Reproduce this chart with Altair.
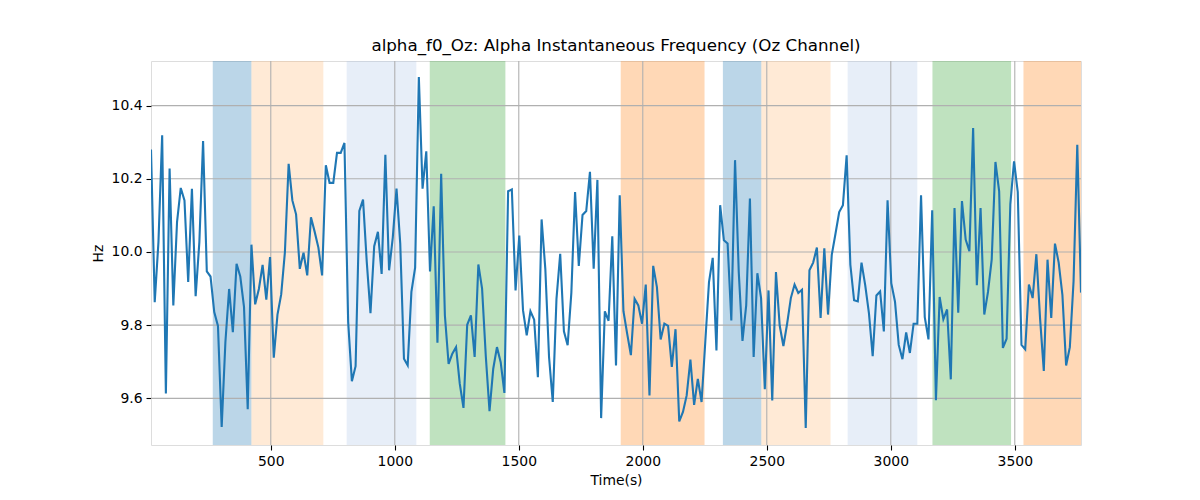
import altair as alt
import pandas as pd

# ---- data ----
T_START = 17.0   # first time stamp (s)
T_STEP = 15.0    # sampling step (s)
freq_hz = [
    10.28, 9.863, 10.027, 10.319, 9.613, 10.228, 9.854, 10.082, 10.175, 10.141,
    9.918, 10.173, 9.879, 10.027, 10.303, 9.947, 9.933, 9.836, 9.798, 9.522,
    9.754, 9.899, 9.781, 9.968, 9.933, 9.850, 9.570, 10.020, 9.857, 9.899,
    9.965, 9.870, 9.986, 9.711, 9.829, 9.884, 10.000, 10.241, 10.141, 10.103,
    9.954, 9.998, 9.936, 10.095, 10.055, 10.012, 9.936, 10.237, 10.189, 10.189,
    10.271, 10.271, 10.298, 9.809, 9.647, 9.688, 10.112, 10.143, 9.973, 9.833,
    10.016, 10.055, 9.94, 10.266, 9.950, 10.04, 10.173, 10.023, 9.708, 9.690,
    9.891, 9.957, 10.478, 10.173, 10.275, 9.947, 10.125, 9.752, 10.214, 9.827,
    9.694, 9.722, 9.740, 9.640, 9.574, 9.801, 9.827, 9.713, 9.966, 9.900,
    9.715, 9.565, 9.681, 9.740, 9.699, 9.615, 10.166, 10.171, 9.895, 10.045,
    9.841, 9.772, 9.838, 9.815, 9.658, 10.089, 9.954, 9.713, 9.590, 9.872,
    9.995, 9.783, 9.745, 9.889, 10.164, 9.962, 10.101, 10.112, 10.219, 9.954,
    10.197, 9.546, 9.838, 9.812, 10.043, 9.690, 10.155, 9.838, 9.777, 9.718,
    9.872, 9.854, 9.804, 9.911, 9.608, 9.962, 9.904, 9.761, 9.804, 9.798,
    9.686, 9.789, 9.537, 9.563, 9.608, 9.706, 9.582, 9.653, 9.590, 9.754,
    9.918, 9.984, 9.731, 10.128, 10.032, 10.023, 9.813, 10.251, 9.945, 9.757,
    9.854, 10.146, 9.713, 9.942, 9.874, 9.625, 9.895, 9.594, 9.945, 9.799,
    9.743, 9.804, 9.874, 9.911, 9.888, 9.897, 9.519, 9.950, 9.971, 10.012,
    9.820, 10.010, 9.829, 9.992, 10.050, 10.109, 10.128, 10.264, 9.965, 9.868,
    9.865, 9.971, 9.909, 9.832, 9.715, 9.881, 9.892, 9.783, 10.141, 9.915,
    9.864, 9.746, 9.707, 9.780, 9.724, 9.804, 9.804, 10.155, 9.822, 9.761,
    10.114, 9.595, 9.877, 9.816, 9.843, 9.652, 10.120, 9.834, 10.139, 10.034,
    10.002, 10.339, 9.909, 10.120, 9.829, 9.891, 9.980, 10.246, 10.166, 9.738,
    9.763, 10.130, 10.248, 10.164, 9.746, 9.734, 9.911, 9.874, 9.994, 9.818,
    9.675, 9.979, 9.820, 10.023, 9.971, 9.883, 9.690, 9.740, 9.920, 10.293,
    9.889,
]

band_start = [266, 422, 806, 1141, 1911, 2323, 2478, 2826, 3168, 3535]
band_end = [422, 712, 1087, 1446, 2249, 2478, 2757, 3107, 3485, 3767]
band_color = ["#1f77b4", "#ffbb78", "#aec7e8", "#2ca02c", "#ff7f0e",
              "#1f77b4", "#ffbb78", "#aec7e8", "#2ca02c", "#ff7f0e"]

x_ticks = [500, 1000, 1500, 2000, 2500, 3000, 3500]
y_ticks = [9.6, 9.8, 10.0, 10.2, 10.4]

X_DOMAIN = [17, 3767]
Y_DOMAIN = [9.4725, 10.522]

# ---- tables ----
line_df = pd.DataFrame({
    "t": [T_START + T_STEP * i for i in range(len(freq_hz))],
    "f": freq_hz,
})
band_df = pd.DataFrame({"start": band_start, "end": band_end, "color": band_color})
xg_df = pd.DataFrame({"x": x_ticks})
yg_df = pd.DataFrame({"y": y_ticks})

FONT = "DejaVu Sans"
xscale = alt.Scale(domain=X_DOMAIN, nice=False, zero=False)
yscale = alt.Scale(domain=Y_DOMAIN, nice=False, zero=False)

x_axis = alt.Axis(values=x_ticks, title="Time(s)", grid=False, format="d",
                  tickColor="black", tickSize=5, tickWidth=1.1, labelPadding=4,
                  labelFont=FONT, labelFontSize=13.9, labelColor="black",
                  titleFont=FONT, titleFontSize=13.9, titleFontWeight="normal",
                  titleColor="black", titlePadding=6, domain=False)
y_axis = alt.Axis(values=y_ticks, title="Hz", grid=False, format=".1f",
                  tickColor="black", tickSize=5, tickWidth=1.1, labelPadding=4,
                  labelFont=FONT, labelFontSize=13.9, labelColor="black",
                  titleFont=FONT, titleFontSize=13.9, titleFontWeight="normal",
                  titleColor="black", titlePadding=6, domain=False)

bands = alt.Chart(band_df).mark_rect(opacity=0.3, clip=True).encode(
    x=alt.X("start:Q", scale=xscale, axis=x_axis),
    x2="end:Q",
    color=alt.Color("color:N", scale=None),
)

xgrid = alt.Chart(xg_df).mark_rule(color="#b0b0b0", strokeWidth=1.1).encode(
    x=alt.X("x:Q", scale=xscale, axis=x_axis)
)
ygrid = alt.Chart(yg_df).mark_rule(color="#b0b0b0", strokeWidth=1.1).encode(
    y=alt.Y("y:Q", scale=yscale, axis=y_axis)
)

line = alt.Chart(line_df).mark_line(color="#1f77b4", strokeWidth=2.1, clip=True).encode(
    x=alt.X("t:Q", scale=xscale, axis=x_axis),
    y=alt.Y("f:Q", scale=yscale, axis=y_axis),
)

chart = alt.layer(bands, xgrid, ygrid, line).properties(
    width=930,
    height=384,
    title=alt.TitleParams(
        "alpha_f0_Oz: Alpha Instantaneous Frequency (Oz Channel)",
        font=FONT, fontSize=16.7, fontWeight="normal", color="black",
        anchor="middle", offset=6,
    ),
    autosize=alt.AutoSizeParams(type="none"),
    padding={"left": 143, "top": 53, "right": 110, "bottom": 52},
).configure_view(stroke="black", strokeWidth=1.1).configure(background="white")

chart.save("out.html", embed_options={"renderer": "svg", "actions": False})
